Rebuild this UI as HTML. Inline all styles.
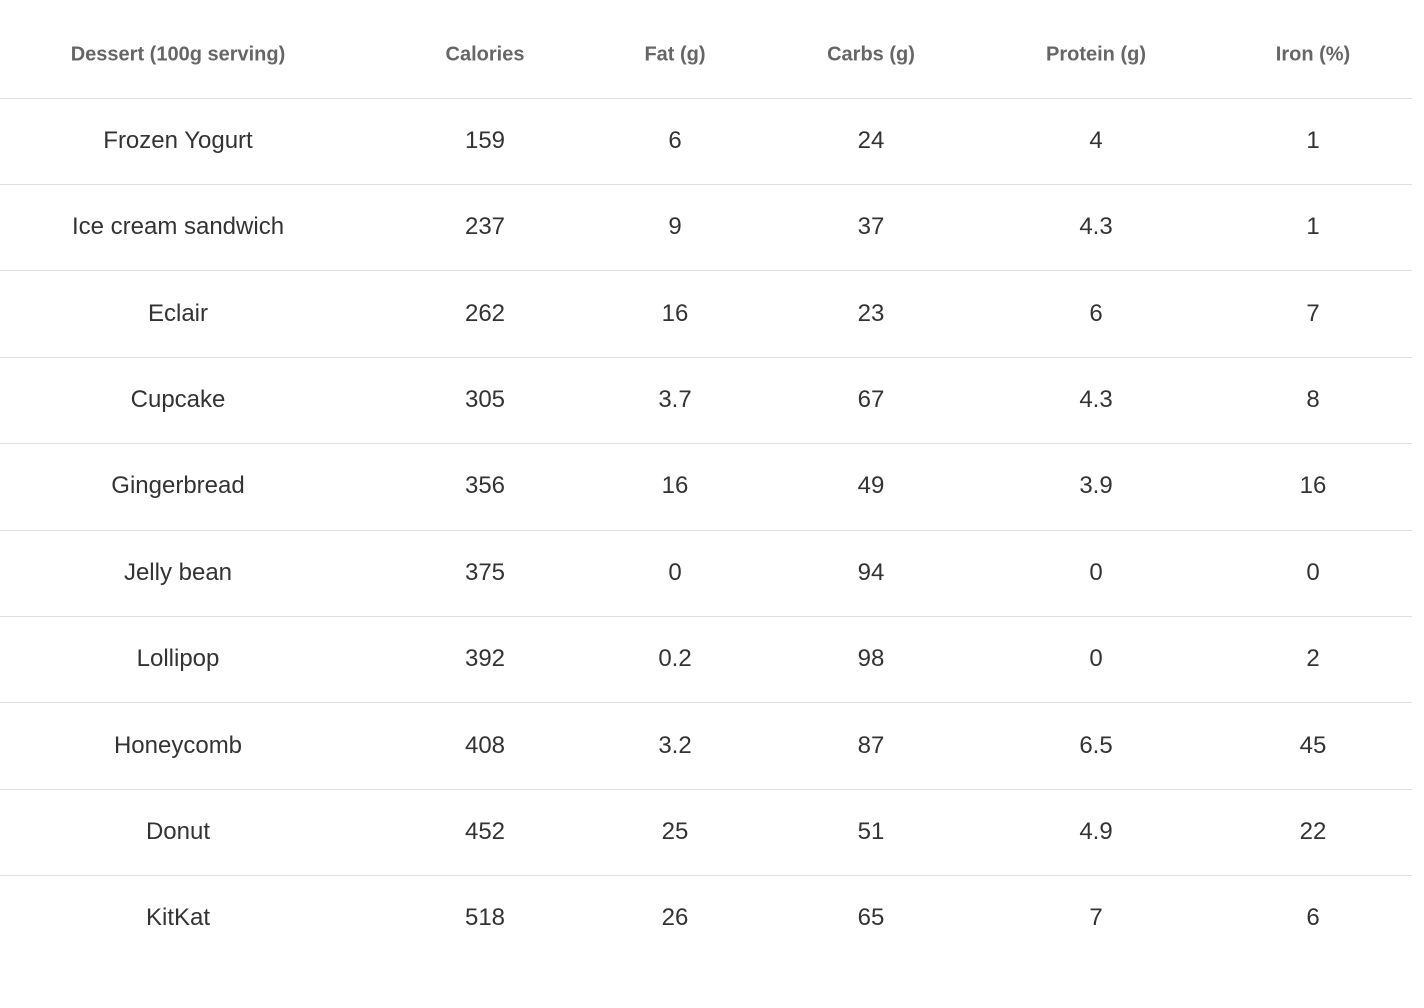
<!DOCTYPE html>
<html><head><meta charset="utf-8"><style>
html,body{margin:0;padding:0;background:#fff;width:1424px;height:1008px;overflow:hidden;font-family:"Liberation Sans",sans-serif;}
.c{position:absolute;transform:translate(-50%,-50%);white-space:nowrap;}
.h{font-size:20px;font-weight:bold;color:#666;}
.b{font-size:24px;color:#333;}
.line{position:absolute;left:0;width:1412px;height:1px;background:#e0e0e0;}
</style></head><body>
<div id="t" style="position:relative;width:1424px;height:1008px;"></div>
<script>
const headers=["Dessert (100g serving)","Calories","Fat (g)","Carbs (g)","Protein (g)","Iron (%)"];
const desserts=["Frozen Yogurt","Ice cream sandwich","Eclair","Cupcake","Gingerbread","Jelly bean","Lollipop","Honeycomb","Donut","KitKat"];
const calories=["159","237","262","305","356","375","392","408","452","518"];
const fat=["6","9","16","3.7","16","0","0.2","3.2","25","26"];
const carbs=["24","37","23","67","49","94","98","87","51","65"];
const protein=["4","4.3","6","4.3","3.9","0","0","6.5","4.9","7"];
const iron=["1","1","7","8","16","0","2","45","22","6"];
const xs=[178,485,675,871,1096,1313];
const t=document.getElementById('t');
headers.forEach((h,i)=>{
  const d=document.createElement('div');d.className='c h';d.textContent=h;
  d.style.left=xs[i]+'px';d.style.top='55px';
  
  
  t.appendChild(d);
});
const cols=[desserts,calories,fat,carbs,protein,iron];
const rowH=86.4, top0=97.5;
desserts.forEach((_,r)=>{
  const ln=document.createElement('div');ln.className='line';ln.style.top=(top0+r*rowH)+'px';
  
  
  t.appendChild(ln);
  cols.forEach((col,i)=>{
    const d=document.createElement('div');d.className='c b';d.textContent=col[r];
    d.style.left=xs[i]+'px';d.style.top=(top0+r*rowH+rowH/2)+'px';
    
    
    t.appendChild(d);
  });
});
</script>
</body></html>
